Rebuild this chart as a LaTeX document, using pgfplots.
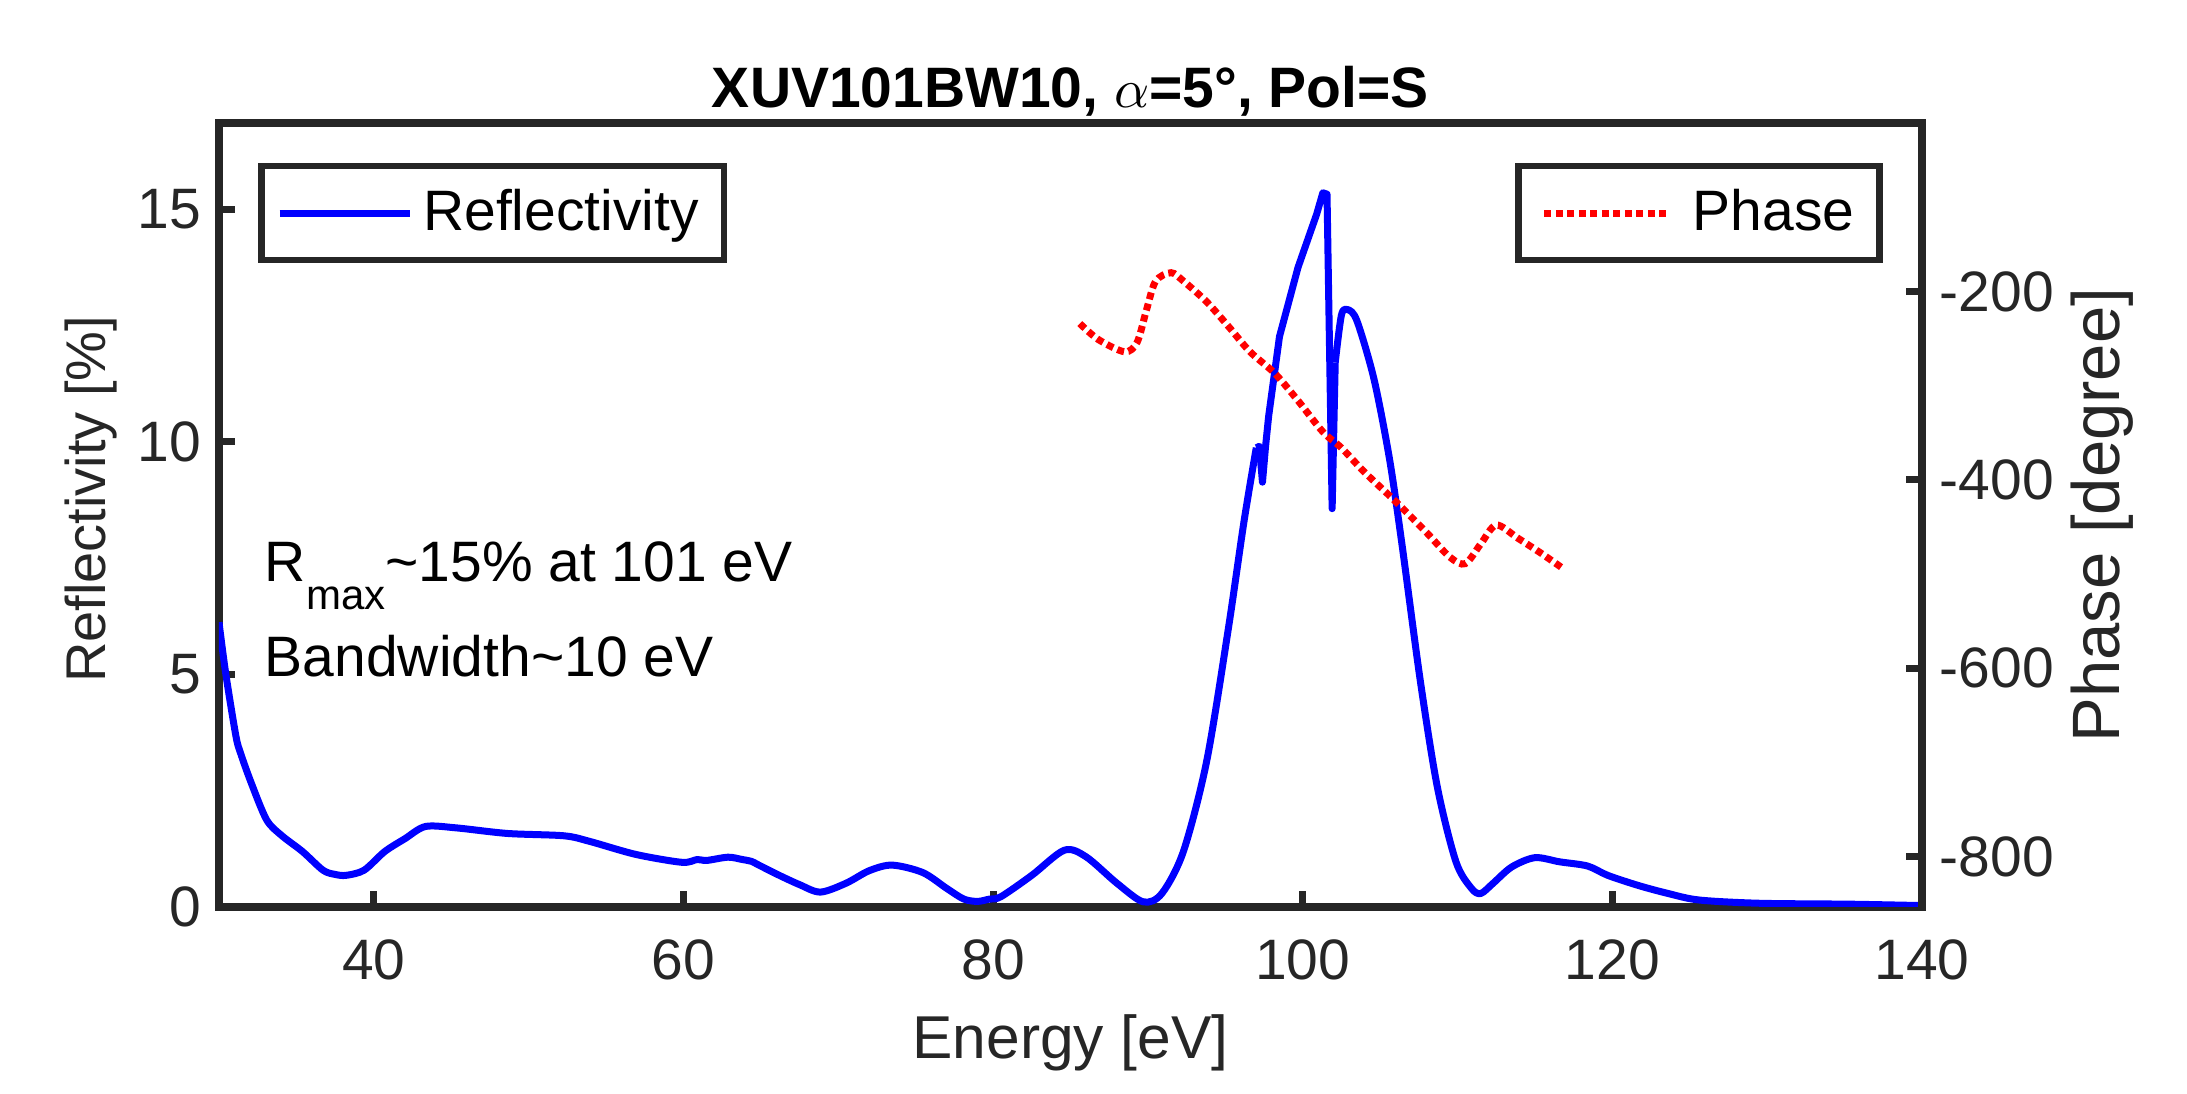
\documentclass[border=0pt]{standalone}
\usepackage{pgfplots}
\pgfplotsset{compat=1.18}
\usepackage{pgfplotstable}
\usepackage{fontspec}
\setmainfont{Liberation Sans}
\definecolor{axcol}{RGB}{38,38,38}
\pgfplotstableread{
x y
30.0 6.12
30.43 5.03
31.09 3.68
31.4 3.30
32.09 2.66
33.08 1.87
34.07 1.53
35.40 1.19
36.72 0.79
37.5 0.70
38.21 0.68
39.37 0.79
40.70 1.19
42.02 1.47
43.34 1.73
45.33 1.70
48.64 1.58
52.28 1.53
53.94 1.41
56.92 1.13
59.90 0.96
60.89 1.02
61.5 1.00
62.88 1.07
63.8 1.02
64.4 0.98
64.87 0.90
66.19 0.68
67.5 0.48
68.84 0.32
70.50 0.51
72.0 0.78
73.48 0.90
75.46 0.74
77.0 0.40
78.11 0.17
79.0 0.12
79.77 0.17
80.5 0.22
82.5 0.68
84.6 1.22
86.0 1.08
88.0 0.51
89.7 0.11
90.9 0.29
92.3 1.20
93.8 3.14
95.2 5.99
96.2 8.27
97.0 9.87
}\reflA
\pgfplotstableread{
x y
97.0 9.87
97.2 9.90
97.4 9.13
97.6 9.90
97.8 10.55
98.5 12.26
99.7 13.75
100.9 14.89
101.3 15.35
101.57 15.32
101.9 8.56
102.1 11.70
}\reflB
\pgfplotstableread{
x y
102.1 11.70
102.5 12.72
102.9 12.84
103.5 12.60
104.6 11.35
105.6 9.64
106.4 7.82
107.6 4.85
108.7 2.57
109.9 0.97
110.9 0.40
111.5 0.29
112.3 0.51
113.5 0.86
115.0 1.06
116.6 0.97
118.4 0.88
119.7 0.68
121.7 0.46
123.6 0.29
125.6 0.15
129.5 0.08
135.4 0.06
140.0 0.03
}\reflC
\pgfplotstableread{
x y
85.6 -234
86.8 -251
88.5 -264
89.3 -254
89.9 -220
90.5 -189
91.5 -180
92.3 -189
93.8 -211
95.2 -237
96.6 -264
98.2 -287
99.7 -316
101.3 -349
102.5 -366
104.0 -392
106.0 -423
108.0 -456
109.5 -482
110.5 -489
111.5 -468
112.5 -448
113.9 -462
115.4 -478
116.8 -494
}\phase
\begin{document}
\begin{tikzpicture}
\useasboundingbox (-43.8pt,-37.4pt) rectangle (393.6pt,181.4pt);
\pgfplotsset{
  every axis/.append style={
    at={(0,0)}, anchor=south west,
    scale only axis, width=340.6pt, height=156.8pt,
    xmin=30, xmax=140,
    axis line style={axcol, line width=1.6pt},
    tick style={axcol, line width=1.4pt},
    major tick length=3.2pt,
    tick align=inside,
    /pgf/number format/assume math mode=true,
    tick label style={font=\fontsize{11.4}{13}\selectfont, text=axcol},
    legend style={font=\fontsize{11.4}{13}\selectfont, draw=axcol, line width=1.3pt, fill=white, text=black, inner xsep=3pt, inner ysep=2.5pt},
    legend cell align=left,
  }
}
\begin{axis}[
  ymin=0, ymax=16.85,
  xtick={40,60,80,100,120,140},
  ytick={0,5,10,15},
  xtick pos=bottom, ytick pos=left,
  xticklabel style={yshift=-3pt},
  xlabel={Energy [eV]},
  ylabel={Reflectivity [\%]},
  every axis x label/.style={at={(axis description cs:0.5,-0.1735)}, anchor=center, font=\fontsize{12.1}{14}\selectfont, text=axcol},
  every axis y label/.style={at={(axis description cs:-0.0752,0.52)}, rotate=90, anchor=center, font=\fontsize{11.2}{13}\selectfont, text=axcol},
  title={\bfseries XUV101BW10, $\alpha$=5°, Pol=S},
  every axis title/.style={at={(axis description cs:0.5,1.041)}, anchor=center, font=\fontsize{11.4}{13}\selectfont},
  legend style={at={(axis description cs:0.0229,0.949)}, anchor=north west},
  legend image code/.code={\draw[#1] (0pt,0pt) -- (26pt,0pt);},
]
\addplot[blue, line width=1.4pt, line join=round, smooth, tension=0.5] table[x=x,y=y]{\reflA};
\addlegendentry{Reflectivity}
\addplot[blue, line width=1.4pt, line join=round, forget plot] table[x=x,y=y]{\reflB};
\addplot[blue, line width=1.4pt, line join=round, smooth, tension=0.5, forget plot] table[x=x,y=y]{\reflC};
\node[anchor=base west, font=\fontsize{11.4}{13}\selectfont, inner sep=0pt] at (axis cs:32.9,7.0) {R\raisebox{-5.6pt}{\fontsize{8.4}{9}\selectfont max}\textasciitilde 15\% at 101 eV};
\node[anchor=base west, font=\fontsize{11.4}{13}\selectfont, inner sep=0pt] at (axis cs:32.9,4.95) {Bandwidth\textasciitilde 10 eV};
\end{axis}
\begin{axis}[
  ymin=-853.6, ymax=-21,
  axis x line=none,
  axis y line*=right,
  ytick={-800,-600,-400,-200},
  ylabel={Phase [degree]},
  every axis y label/.style={at={(axis description cs:1.1057,0.5)}, rotate=90, anchor=center, font=\fontsize{13.4}{15}\selectfont, text=axcol},
  legend style={at={(axis description cs:0.977,0.949)}, anchor=north east},
  legend image code/.code={\path (-1.5pt,0pt); \draw[#1] (0pt,0pt) -- (25pt,0pt); \path (27pt,0pt);},
]
\addplot[red, line width=1.4pt, dash pattern=on 1.4pt off 0.9pt, smooth, tension=0.5] table[x=x,y=y]{\phase};
\addlegendentry{Phase}
\end{axis}
\end{tikzpicture}
\end{document}
